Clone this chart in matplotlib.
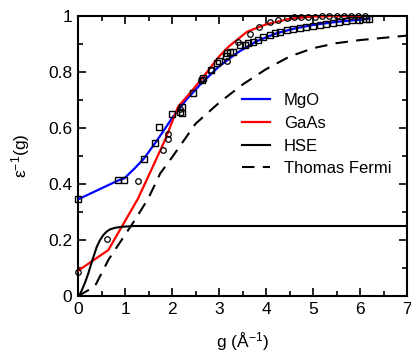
import matplotlib
matplotlib.use("Agg")
import matplotlib.pyplot as plt
from matplotlib.ticker import MultipleLocator

plt.rcParams['font.family'] = ['Liberation Sans', 'DejaVu Sans']
plt.rcParams['mathtext.fontset'] = 'custom'
plt.rcParams['mathtext.rm'] = 'Liberation Sans'
plt.rcParams['mathtext.it'] = 'Liberation Sans:italic'

# MgO line and squares
mgo_line_x = [0, 0.86, 0.985, 1.2, 1.4, 1.7, 2.0, 2.3, 2.6, 3.0, 3.4, 3.8, 4.2, 4.6, 5.0, 5.5, 6.0, 6.2]
mgo_line_y = [0.345, 0.413, 0.42, 0.455, 0.49, 0.56, 0.635, 0.70, 0.755, 0.82, 0.87, 0.91, 0.937, 0.955, 0.968, 0.979, 0.987, 0.99]
mgo_pts_x = [0, 0.86, 0.985, 1.40, 1.645, 1.72, 1.99, 2.18, 2.22, 2.22, 2.44, 2.63, 2.65, 2.82, 2.95,
             3.0, 3.15, 3.16, 3.23, 3.3, 3.45, 3.55, 3.62, 3.73, 3.84, 3.94, 4.09, 4.19, 4.30, 4.44,
             4.58, 4.72, 4.86, 5.0, 5.14, 5.28, 5.42, 5.56, 5.70, 5.84, 5.98, 6.12, 6.2]
mgo_pts_y = [0.346, 0.413, 0.413, 0.489, 0.548, 0.605, 0.649, 0.658, 0.674, 0.655, 0.726, 0.771, 0.777, 0.807, 0.831,
             0.839, 0.857, 0.867, 0.873, 0.873, 0.895, 0.898, 0.902, 0.908, 0.914, 0.926, 0.932, 0.938, 0.944, 0.95,
             0.954, 0.958, 0.962, 0.966, 0.969, 0.972, 0.975, 0.978, 0.981, 0.984, 0.986, 0.988, 0.99]

# GaAs line and circles
gaas_line_x = [0, 0.645, 1.28, 1.6, 1.85, 2.13, 2.45, 2.7, 3.0, 3.2, 3.6, 4.0, 4.5, 5.0, 5.5, 6.2]
gaas_line_y = [0.09, 0.164, 0.349, 0.465, 0.557, 0.676, 0.738, 0.79, 0.855, 0.89, 0.944, 0.97, 0.99, 0.998, 1.0, 1.0]
gaas_pts_x = [0, 0.62, 1.28, 1.815, 1.92, 1.92, 2.18, 2.61, 2.83, 3.16, 3.41, 3.66, 3.85, 4.09, 4.26, 4.44,
              4.6, 4.75, 4.9, 5.05, 5.2, 5.35, 5.5, 5.65, 5.8, 5.95, 6.1]
gaas_pts_y = [0.087, 0.202, 0.411, 0.522, 0.56, 0.58, 0.667, 0.771, 0.807, 0.84, 0.907, 0.937, 0.962, 0.98, 0.986, 0.992,
              0.995, 0.997, 0.998, 0.998, 0.999, 0.999, 0.999, 1.0, 1.0, 1.0, 1.0]

# HSE
hse_x = [0, 0.04, 0.08, 0.15, 0.22, 0.3, 0.4, 0.47, 0.54, 0.61, 0.68, 0.8, 0.96, 1.2, 7.0]
hse_y = [0, 0.006, 0.02, 0.048, 0.081, 0.125, 0.176, 0.2, 0.218, 0.23, 0.238, 0.244, 0.2475, 0.25, 0.25]

# Thomas Fermi
tf_x = [0, 0.11, 0.36, 0.65, 1.07, 1.21, 1.5, 1.75, 2.0, 2.5, 3.0, 3.5, 4.0, 4.5, 5.0, 5.5, 6.0, 6.5, 7.0]
tf_y = [0, 0.01, 0.035, 0.13, 0.236, 0.271, 0.35, 0.438, 0.495, 0.615, 0.69, 0.755, 0.81, 0.855, 0.885, 0.903, 0.914, 0.922, 0.93]

fig = plt.figure(figsize=(4.11, 3.55), dpi=100)
ax = fig.add_axes([78/411, 1-296/355, (407-78)/411, (296-16)/355])

ax.plot(mgo_line_x, mgo_line_y, color='#0000ff', lw=1.6, label='MgO', zorder=3)
ax.plot(gaas_line_x, gaas_line_y, color='#ff0000', lw=1.6, label='GaAs', zorder=3)
ax.plot(hse_x, hse_y, color='black', lw=1.5, label='HSE', zorder=3)
ax.plot(tf_x, tf_y, color='black', lw=1.5, ls=(0, (6, 4)), label='Thomas Fermi', zorder=3)
ax.plot(mgo_pts_x, mgo_pts_y, ls='none', marker='s', ms=4.2, mfc='none', mec='black', mew=1.0, zorder=4, clip_on=False)
ax.plot(gaas_pts_x, gaas_pts_y, ls='none', marker='o', ms=4.0, mfc='none', mec='black', mew=0.9, zorder=4, clip_on=False)

ax.set_xlim(0, 7)
ax.set_ylim(0, 1)
ax.xaxis.set_major_locator(MultipleLocator(1))
ax.xaxis.set_minor_locator(MultipleLocator(0.5))
ax.yaxis.set_major_locator(MultipleLocator(0.2))
ax.yaxis.set_minor_locator(MultipleLocator(0.1))
ax.set_yticks([0, 0.2, 0.4, 0.6, 0.8, 1.0])
ax.set_yticklabels(['0', '0.2', '0.4', '0.6', '0.8', '1'])
ax.tick_params(which='both', direction='in', top=True, right=True, labelsize=12.5, width=1.2)
ax.tick_params(which='major', length=6, pad=4)
ax.tick_params(which='minor', length=3.5)
for s in ax.spines.values():
    s.set_linewidth(1.5)

ax.set_xlabel('g (Å$^{-1}$)', fontsize=12.5, labelpad=10)
ax.set_ylabel('ε$^{-1}$(g)', fontsize=12.5, labelpad=12)

leg = ax.legend(loc='upper left', bbox_to_anchor=(0.4985, 0.724), frameon=False, fontsize=12,
                handlelength=1.7, handletextpad=0.8, labelspacing=0.46, borderaxespad=0,
                borderpad=0)

fig.savefig('out.png', dpi=100)
